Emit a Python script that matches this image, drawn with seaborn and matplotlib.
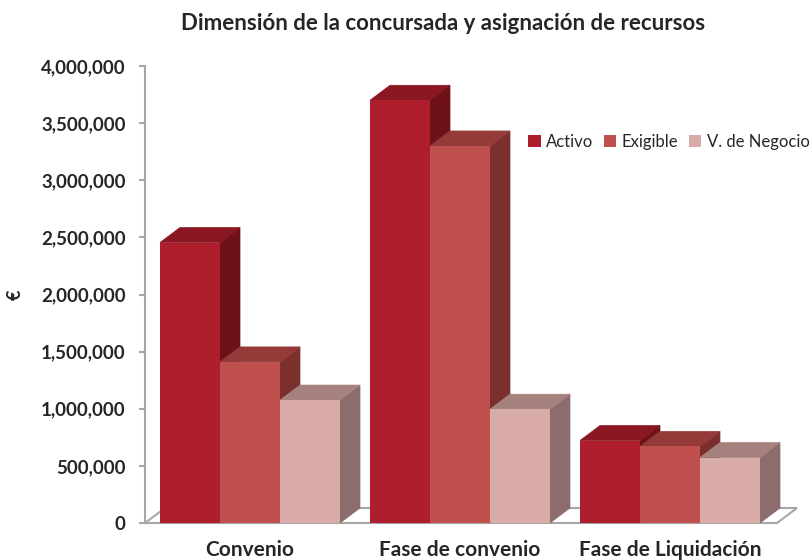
import matplotlib
matplotlib.use("Agg")
import matplotlib.pyplot as plt
from matplotlib.patches import Polygon, Patch
from matplotlib.ticker import FuncFormatter
import seaborn as sns
import pandas as pd

# ---- data ----
categories = ["Convenio", "Fase de convenio", "Fase de Liquidación"]
series = ["Activo", "Exigible", "V. de Negocio"]
activo = [2455000, 3700000, 722000]
exigible = [1410000, 3300000, 670000]
negocio = [1076000, 996000, 573000]
title = "Dimensión de la concursada y asignación de recursos"
ylabel = "€"

front_colors = ["#AF1E2D", "#C0504D", "#D9ABA9"]
top_colors = ["#8A1722", "#943B39", "#A6827F"]
side_colors = ["#6E1119", "#7B302E", "#8C6C6C"]

rows = []
for s, vals in zip(series, [activo, exigible, negocio]):
    for c, v in zip(categories, vals):
        rows.append({"cat": c, "serie": s, "val": v})
df = pd.DataFrame(rows)

sns.set_style("white")
plt.rcParams["font.family"] = ["Lato", "DejaVu Sans"]

W, H = 810, 560
fig = plt.figure(figsize=(W / 100, H / 100), dpi=100)
ax_left, ax_right, ax_top, ax_bot = 145, 775, 66, 523
ax = fig.add_axes([ax_left / W, (H - ax_bot) / H, (ax_right - ax_left) / W, (ax_bot - ax_top) / H])

sns.barplot(data=df, x="cat", y="val", hue="serie", order=categories, hue_order=series,
            palette=front_colors, saturation=1, width=180 / 210, ax=ax, legend=False,
            linewidth=0, errorbar=None)

ax.set_xlim(-0.5, 2.5)
ymax = 4000000
ax.set_ylim(0, ymax)

# depth of the 3D effect in data units
px_x = 3.0 / (ax_right - ax_left)
px_y = ymax / (ax_bot - ax_top)
dx = 20 * px_x
dy = 15 * px_y

bars = sorted([p for p in ax.patches], key=lambda p: p.get_x())
for k, p in enumerate(bars):
    x0 = p.get_x()
    w = p.get_width()
    h = p.get_height()
    x1 = x0 + w
    fc = matplotlib.colors.to_hex(p.get_facecolor())
    idx = [matplotlib.colors.to_hex(c) for c in front_colors].index(fc)
    base = 3 + 3 * k
    side = Polygon([(x1, 0), (x1 + dx, dy), (x1 + dx, h + dy), (x1, h)], closed=True,
                   facecolor=side_colors[idx], edgecolor=side_colors[idx], linewidth=0.5,
                   zorder=base, clip_on=False)
    top = Polygon([(x0, h), (x0 + dx, h + dy), (x1 + dx, h + dy), (x1, h)], closed=True,
                  facecolor=top_colors[idx], edgecolor=top_colors[idx], linewidth=0.5,
                  zorder=base + 1, clip_on=False)
    ax.add_patch(side)
    ax.add_patch(top)
    p.set_zorder(base + 2)
    p.set_clip_on(False)

# floor
floor = Polygon([(-0.5, 0), (2.5 + 2 * px_x, 0), (2.5 + 22 * px_x, dy), (-0.5 + dx, dy)],
                closed=True, facecolor="white", edgecolor="#A6A6A6", linewidth=1.5,
                zorder=1, clip_on=False)
ax.add_patch(floor)

for s in ["top", "right", "bottom"]:
    ax.spines[s].set_visible(False)
ax.spines["left"].set_color("#A6A6A6")
ax.spines["left"].set_linewidth(1.5)

ax.set_yticks(range(0, 4000001, 500000))
ax.yaxis.set_major_formatter(FuncFormatter(lambda v, p: f"{int(v):,}"))
ax.tick_params(axis="y", length=4, width=1.5, color="#A6A6A6", pad=10,
               labelsize=13.5, left=True)
ax.tick_params(axis="x", length=0, pad=12, labelsize=15)
for lab in ax.get_yticklabels() + ax.get_xticklabels():
    lab.set_fontweight("bold")
ax.set_xlabel("")
ax.set_ylabel("")

fig.text(15 / W, 1 - 295 / H, ylabel, rotation=90, ha="center", va="center",
         fontsize=13, fontweight="bold")
fig.text(443 / W, 1 - 23 / H, title, ha="center", va="center", fontsize=16,
         fontweight="bold")

handles = [Patch(facecolor=c, edgecolor="none", label=s) for c, s in zip(front_colors, series)]
fig.legend(handles=handles, loc="center left", bbox_to_anchor=(528 / W, 1 - 142 / H),
           ncol=3, frameon=False, fontsize=12, handlelength=0.75, handleheight=0.75,
           handletextpad=0.35, columnspacing=0.6, borderaxespad=0, borderpad=0)

fig.savefig("out.png", dpi=100)
